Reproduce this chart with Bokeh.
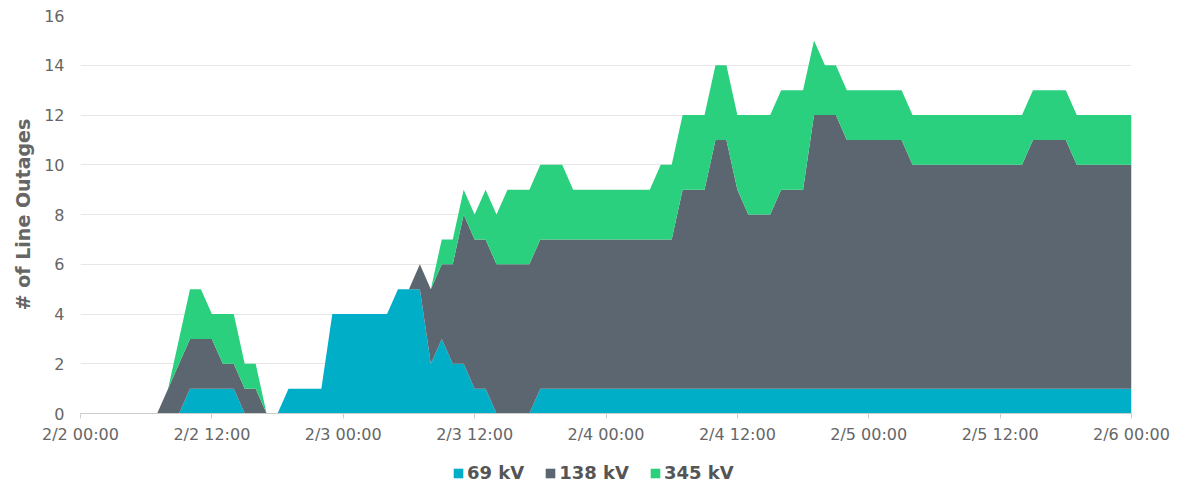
import pandas as pd
from bokeh.plotting import figure
from bokeh.layouts import column
from bokeh.models import (ColumnDataSource, Legend, LegendItem, FixedTicker, Range1d)
from bokeh.embed import file_html
from bokeh.resources import INLINE

# ---- data (hourly, 2/2 00:00 .. 2/6 00:00) ----
times = pd.date_range("2021-02-02 00:00", "2021-02-06 00:00", freq="h")

kv69 = [0, 0, 0, 0, 0, 0, 0, 0, 0, 0, 1, 1,
        1, 1, 1, 0, 0, 0, 0, 1, 1, 1, 1, 4,
        4, 4, 4, 4, 4, 5, 5, 5, 2, 3, 2, 2,
        1, 1, 0, 0, 0, 0, 1, 1, 1, 1, 1, 1,
        1, 1, 1, 1, 1, 1, 1, 1, 1, 1, 1, 1,
        1, 1, 1, 1, 1, 1, 1, 1, 1, 1, 1, 1,
        1, 1, 1, 1, 1, 1, 1, 1, 1, 1, 1, 1,
        1, 1, 1, 1, 1, 1, 1, 1, 1, 1, 1, 1,
        1]
kv138 = [0, 0, 0, 0, 0, 0, 0, 0, 1, 2, 2, 2,
         2, 1, 1, 1, 1, 0, 0, 0, 0, 0, 0, 0,
         0, 0, 0, 0, 0, 0, 0, 1, 3, 3, 4, 6,
         6, 6, 6, 6, 6, 6, 6, 6, 6, 6, 6, 6,
         6, 6, 6, 6, 6, 6, 6, 8, 8, 8, 10, 10,
         8, 7, 7, 7, 8, 8, 8, 11, 11, 11, 10, 10,
         10, 10, 10, 10, 9, 9, 9, 9, 9, 9, 9, 9,
         9, 9, 9, 10, 10, 10, 10, 9, 9, 9, 9, 9,
         9]
kv345 = [0, 0, 0, 0, 0, 0, 0, 0, 0, 1, 2, 2,
         1, 2, 2, 1, 1, 0, 0, 0, 0, 0, 0, 0,
         0, 0, 0, 0, 0, 0, 0, 0, 0, 1, 1, 1,
         1, 2, 2, 3, 3, 3, 3, 3, 3, 2, 2, 2,
         2, 2, 2, 2, 2, 3, 3, 3, 3, 3, 3, 3,
         3, 4, 4, 4, 4, 4, 4, 3, 2, 2, 2, 2,
         2, 2, 2, 2, 2, 2, 2, 2, 2, 2, 2, 2,
         2, 2, 2, 2, 2, 2, 2, 2, 2, 2, 2, 2,
         2]

series_names = ["69 kV", "138 kV", "345 kV"]
series_colors = ["#00AFC7", "#5B6670", "#2AD07E"]
stackers = ["kv69", "kv138", "kv345"]

tick_times = pd.date_range("2021-02-02 00:00", "2021-02-06 00:00", freq="12h")
tick_labels = ["2/2 00:00", "2/2 12:00", "2/3 00:00", "2/3 12:00", "2/4 00:00",
               "2/4 12:00", "2/5 00:00", "2/5 12:00", "2/6 00:00"]
y_ticks = [0, 2, 4, 6, 8, 10, 12, 14, 16]

src = ColumnDataSource(dict(t=times, kv69=kv69, kv138=kv138, kv345=kv345))

W = 1180
p = figure(x_axis_type="datetime", output_backend="svg", toolbar_location=None,
           width=W, height=446,
           min_border_left=80, min_border_right=49, min_border_top=15,
           min_border_bottom=32,
           x_range=Range1d(times[0], times[-1]), y_range=Range1d(0, 16))

renderers = p.varea_stack(stackers=stackers, x="t", color=series_colors, source=src)

tick_ms = [int(t.timestamp() * 1000) for t in tick_times]
p.xaxis.ticker = FixedTicker(ticks=tick_ms)
p.xaxis.major_label_overrides = {ms: lab for ms, lab in zip(tick_ms, tick_labels)}
p.yaxis.ticker = FixedTicker(ticks=y_ticks)

FONT = "DejaVu Sans"
for ax in (p.xaxis[0], p.yaxis[0]):
    ax.major_label_text_font = FONT
    ax.major_label_text_font_size = "16px"
    ax.major_label_text_color = "#666666"
    ax.minor_tick_line_color = None

p.xaxis.axis_line_color = "#cccccc"
p.xaxis.major_tick_line_color = "#cccccc"
p.xaxis.major_tick_out = 5
p.xaxis.major_tick_in = 0
p.xaxis.major_label_standoff = 6

p.yaxis.axis_line_color = None
p.yaxis.major_tick_line_color = None
p.yaxis.major_tick_out = 0
p.yaxis.major_tick_in = 0
p.yaxis.major_label_standoff = 16
p.yaxis.axis_label = "# of Line Outages"
p.yaxis.axis_label_text_font = FONT
p.yaxis.axis_label_text_font_size = "19px"
p.yaxis.axis_label_text_font_style = "bold"
p.yaxis.axis_label_text_color = "#666666"
p.yaxis.axis_label_standoff = 7

p.xgrid.grid_line_color = None
p.ygrid.grid_line_color = "#e6e6e6"
p.ygrid.ticker = FixedTicker(ticks=y_ticks)
p.outline_line_color = None

# ---- legend strip (separate figure so the legend can be placed freely) ----
leg = figure(output_backend="svg", toolbar_location=None, width=W, height=37,
             min_border_left=0, min_border_right=0, min_border_top=0, min_border_bottom=0,
             x_range=Range1d(0, W), y_range=Range1d(100, 101),
             x_axis_location=None, y_axis_location=None)
leg.grid.visible = False
leg.outline_line_color = None
leg_src = ColumnDataSource(dict(t=[0, 1], kv69=[0, 0], kv138=[0, 0], kv345=[0, 0]))
leg_renderers = leg.varea_stack(stackers=stackers, x="t", color=series_colors, source=leg_src)

legend = Legend(items=[LegendItem(label=n, renderers=[r]) for n, r in zip(series_names, leg_renderers)],
                orientation="horizontal", location=(372, 0),
                glyph_width=12, glyph_height=12, label_standoff=3, spacing=20,
                label_text_font=FONT, label_text_font_size="18px",
                label_text_font_style="bold", label_text_color="#555555",
                border_line_color=None, background_fill_alpha=0,
                padding=0, margin=0)
leg.add_layout(legend, "center")

layout = column(p, leg, spacing=0)
open("out.html", "w").write(file_html(layout, INLINE))
